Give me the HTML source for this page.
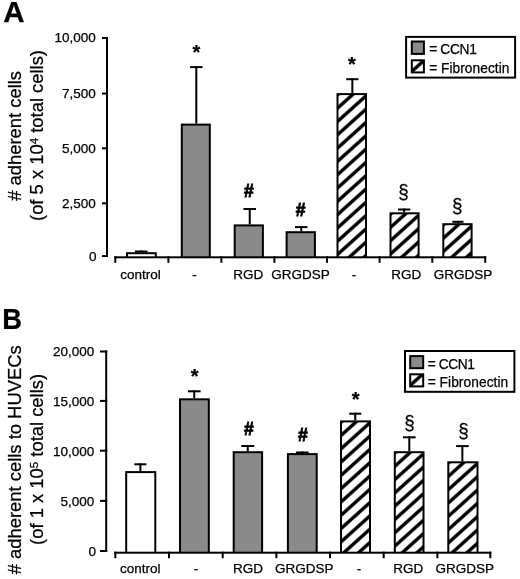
<!DOCTYPE html>
<html><head><meta charset="utf-8"><style>
html,body{margin:0;padding:0;background:#fff;width:520px;height:579px;overflow:hidden}
svg{display:block;filter:grayscale(1) blur(0.4px)}
text{font-family:"Liberation Sans", sans-serif;fill:#000;stroke:#000;stroke-width:0.25px}
</style></head><body>
<svg width="520" height="579" viewBox="0 0 520 579">
<defs><pattern id="hA4" patternUnits="userSpaceOnUse" width="4" height="13.3" patternTransform="translate(338.50 100.65) skewY(-41.987)"><rect x="0" y="0" width="4" height="13.3" fill="#fff"/><rect x="0" y="4.35" width="4" height="4.6" fill="#000"/></pattern><pattern id="hA5" patternUnits="userSpaceOnUse" width="4" height="13.3" patternTransform="translate(391.50 219.85) skewY(-41.987)"><rect x="0" y="0" width="4" height="13.3" fill="#fff"/><rect x="0" y="4.35" width="4" height="4.6" fill="#000"/></pattern><pattern id="hA6" patternUnits="userSpaceOnUse" width="4" height="13.3" patternTransform="translate(444.30 230.75) skewY(-41.987)"><rect x="0" y="0" width="4" height="13.3" fill="#fff"/><rect x="0" y="4.35" width="4" height="4.6" fill="#000"/></pattern><pattern id="hLA" patternUnits="userSpaceOnUse" width="4" height="13.3" patternTransform="translate(412.80 63.85) skewY(-41.987)"><rect x="0" y="0" width="4" height="13.3" fill="#fff"/><rect x="0" y="4.35" width="4" height="4.6" fill="#000"/></pattern><pattern id="hB4" patternUnits="userSpaceOnUse" width="4" height="13.3" patternTransform="translate(342.00 427.95) skewY(-41.987)"><rect x="0" y="0" width="4" height="13.3" fill="#fff"/><rect x="0" y="4.35" width="4" height="4.6" fill="#000"/></pattern><pattern id="hB5" patternUnits="userSpaceOnUse" width="4" height="13.3" patternTransform="translate(395.80 458.75) skewY(-41.987)"><rect x="0" y="0" width="4" height="13.3" fill="#fff"/><rect x="0" y="4.35" width="4" height="4.6" fill="#000"/></pattern><pattern id="hB6" patternUnits="userSpaceOnUse" width="4" height="13.3" patternTransform="translate(449.30 468.85) skewY(-41.987)"><rect x="0" y="0" width="4" height="13.3" fill="#fff"/><rect x="0" y="4.35" width="4" height="4.6" fill="#000"/></pattern><pattern id="hLB" patternUnits="userSpaceOnUse" width="4" height="13.3" patternTransform="translate(411.20 377.85) skewY(-41.987)"><rect x="0" y="0" width="4" height="13.3" fill="#fff"/><rect x="0" y="4.35" width="4" height="4.6" fill="#000"/></pattern></defs>
<rect x="0" y="0" width="520" height="579" fill="#fff"/>
<g transform="translate(3.30,21.80) scale(1.0,1)"><text x="0.00" y="0.00" font-size="29.5" text-anchor="start" font-weight="bold" >A</text></g>
<rect x="106.00" y="37.00" width="2.00" height="220.00" fill="#000"/>
<rect x="102.00" y="37.00" width="6.00" height="2.00" fill="#000"/>
<text x="95.70" y="42.30" font-size="13.5" text-anchor="end" font-weight="normal" >10,000</text>
<rect x="102.00" y="92.50" width="6.00" height="2.00" fill="#000"/>
<text x="95.70" y="97.80" font-size="13.5" text-anchor="end" font-weight="normal" >7,500</text>
<rect x="102.00" y="147.30" width="6.00" height="2.00" fill="#000"/>
<text x="95.70" y="152.60" font-size="13.5" text-anchor="end" font-weight="normal" >5,000</text>
<rect x="102.00" y="202.30" width="6.00" height="2.00" fill="#000"/>
<text x="95.70" y="207.60" font-size="13.5" text-anchor="end" font-weight="normal" >2,500</text>
<rect x="102.00" y="255.00" width="6.00" height="2.00" fill="#000"/>
<text x="96.60" y="260.90" font-size="13.5" text-anchor="end" font-weight="normal" >0</text>
<rect x="114.30" y="256.30" width="371.90" height="2.00" fill="#000"/>
<rect x="114.30" y="256.30" width="2.00" height="6.50" fill="#000"/>
<rect x="167.40" y="256.30" width="2.00" height="6.50" fill="#000"/>
<rect x="220.40" y="256.30" width="2.00" height="6.50" fill="#000"/>
<rect x="273.40" y="256.30" width="2.00" height="6.50" fill="#000"/>
<rect x="326.00" y="256.30" width="2.00" height="6.50" fill="#000"/>
<rect x="378.60" y="256.30" width="2.00" height="6.50" fill="#000"/>
<rect x="431.30" y="256.30" width="2.00" height="6.50" fill="#000"/>
<rect x="484.20" y="256.30" width="2.00" height="6.50" fill="#000"/>
<rect x="126.00" y="252.20" width="30.80" height="5.10" fill="#000"/>
<rect x="128.00" y="254.20" width="26.80" height="2.10" fill="#fff"/>
<rect x="180.80" y="123.60" width="30.00" height="133.70" fill="#000"/>
<rect x="182.80" y="125.60" width="26.00" height="130.70" fill="#8a8a8a"/>
<rect x="233.70" y="224.40" width="30.20" height="32.90" fill="#000"/>
<rect x="235.70" y="226.40" width="26.20" height="29.90" fill="#8a8a8a"/>
<rect x="285.60" y="231.20" width="30.30" height="26.10" fill="#000"/>
<rect x="287.60" y="233.20" width="26.30" height="23.10" fill="#8a8a8a"/>
<rect x="336.50" y="93.10" width="30.50" height="164.20" fill="#000"/>
<rect x="338.50" y="95.10" width="26.50" height="161.20" fill="url(#hA4)"/>
<rect x="389.50" y="212.30" width="30.10" height="45.00" fill="#000"/>
<rect x="391.50" y="214.30" width="26.10" height="42.00" fill="url(#hA5)"/>
<rect x="442.30" y="223.20" width="30.30" height="34.10" fill="#000"/>
<rect x="444.30" y="225.20" width="26.30" height="31.10" fill="url(#hA6)"/>
<rect x="135.00" y="250.50" width="12.50" height="2.00" fill="#000"/>
<rect x="140.25" y="250.50" width="2.00" height="1.70" fill="#000"/>
<rect x="190.10" y="66.10" width="12.40" height="2.00" fill="#000"/>
<rect x="195.30" y="66.10" width="2.00" height="57.50" fill="#000"/>
<rect x="243.50" y="208.00" width="12.50" height="2.00" fill="#000"/>
<rect x="248.75" y="208.00" width="2.00" height="16.40" fill="#000"/>
<rect x="295.00" y="226.10" width="12.50" height="2.00" fill="#000"/>
<rect x="300.25" y="226.10" width="2.00" height="5.10" fill="#000"/>
<rect x="346.20" y="78.20" width="12.30" height="2.00" fill="#000"/>
<rect x="351.35" y="78.20" width="2.00" height="14.90" fill="#000"/>
<rect x="398.00" y="208.50" width="12.30" height="2.00" fill="#000"/>
<rect x="403.15" y="208.50" width="2.00" height="3.80" fill="#000"/>
<rect x="452.30" y="220.80" width="11.20" height="2.00" fill="#000"/>
<rect x="456.90" y="220.80" width="2.00" height="2.40" fill="#000"/>
<text x="196.30" y="58.76" font-size="20" text-anchor="middle" font-weight="bold" >*</text>
<text x="248.95" y="196.90" font-size="17.5" text-anchor="middle" font-weight="bold" style="stroke-width:0.8px">#</text>
<text x="300.50" y="216.30" font-size="17.5" text-anchor="middle" font-weight="bold" style="stroke-width:0.8px">#</text>
<text x="351.95" y="70.66" font-size="20" text-anchor="middle" font-weight="bold" >*</text>
<g transform="translate(403.40,199.06) scale(0.92,1)"><text x="0.00" y="0.00" font-size="20.5" text-anchor="middle" font-weight="normal" >&#167;</text></g>
<g transform="translate(457.35,212.76) scale(0.92,1)"><text x="0.00" y="0.00" font-size="20.5" text-anchor="middle" font-weight="normal" >&#167;</text></g>
<text x="140.50" y="278.50" font-size="13.5" text-anchor="middle" font-weight="normal" >control</text>
<text x="194.40" y="278.50" font-size="13.5" text-anchor="middle" font-weight="normal" >-</text>
<text x="248.35" y="278.50" font-size="13.5" text-anchor="middle" font-weight="normal" >RGD</text>
<text x="300.45" y="278.50" font-size="13.5" text-anchor="middle" font-weight="normal" >GRGDSP</text>
<text x="353.90" y="278.50" font-size="13.5" text-anchor="middle" font-weight="normal" >-</text>
<text x="406.20" y="278.50" font-size="13.5" text-anchor="middle" font-weight="normal" >RGD</text>
<text x="463.00" y="278.50" font-size="13.5" text-anchor="middle" font-weight="normal" >GRGDSP</text>
<text transform="translate(21.10,135.85) rotate(-90)" x="0" y="0" font-size="18.4" text-anchor="middle"># adherent cells</text>
<text transform="translate(43.00,135.50) rotate(-90)" x="0" y="0" font-size="18.4" text-anchor="middle">(of 5 x 10<tspan font-size="11.5" dy="-5">4</tspan><tspan dy="5"> total cells)</tspan></text>
<rect x="405.10" y="35.90" width="111.00" height="42.70" fill="#000"/>
<rect x="407.10" y="37.90" width="107.00" height="38.70" fill="#fff"/>
<rect x="410.80" y="40.50" width="14.10" height="14.40" fill="#000"/>
<rect x="412.80" y="42.50" width="10.10" height="10.40" fill="#8a8a8a"/>
<rect x="410.80" y="59.30" width="14.10" height="14.10" fill="#000"/>
<rect x="412.80" y="61.30" width="10.10" height="10.10" fill="url(#hLA)"/>
<text x="429.13" y="54.10" font-size="13.75" text-anchor="start" font-weight="normal" textLength="47.75" lengthAdjust="spacing">= CCN1</text>
<text x="429.13" y="72.80" font-size="13.75" text-anchor="start" font-weight="normal" textLength="80.27" lengthAdjust="spacing">= Fibronectin</text>
<g transform="translate(2.30,328.70) scale(0.94,1)"><text x="0.00" y="0.00" font-size="29" text-anchor="start" font-weight="bold" >B</text></g>
<rect x="105.20" y="350.40" width="2.00" height="201.60" fill="#000"/>
<rect x="100.00" y="350.50" width="7.20" height="2.00" fill="#000"/>
<text x="94.30" y="356.40" font-size="13.5" text-anchor="end" font-weight="normal" >20,000</text>
<rect x="100.00" y="399.90" width="7.20" height="2.00" fill="#000"/>
<text x="94.30" y="405.80" font-size="13.5" text-anchor="end" font-weight="normal" >15,000</text>
<rect x="100.00" y="449.70" width="7.20" height="2.00" fill="#000"/>
<text x="94.30" y="455.60" font-size="13.5" text-anchor="end" font-weight="normal" >10,000</text>
<rect x="100.00" y="499.90" width="7.20" height="2.00" fill="#000"/>
<text x="94.30" y="505.80" font-size="13.5" text-anchor="end" font-weight="normal" >5,000</text>
<rect x="100.00" y="550.00" width="7.20" height="2.00" fill="#000"/>
<text x="95.90" y="555.90" font-size="13.5" text-anchor="end" font-weight="normal" >0</text>
<rect x="114.30" y="551.70" width="377.00" height="2.00" fill="#000"/>
<rect x="114.30" y="551.70" width="2.00" height="6.50" fill="#000"/>
<rect x="168.00" y="551.70" width="2.00" height="6.50" fill="#000"/>
<rect x="221.70" y="551.70" width="2.00" height="6.50" fill="#000"/>
<rect x="275.40" y="551.70" width="2.00" height="6.50" fill="#000"/>
<rect x="329.00" y="551.70" width="2.00" height="6.50" fill="#000"/>
<rect x="382.70" y="551.70" width="2.00" height="6.50" fill="#000"/>
<rect x="436.40" y="551.70" width="2.00" height="6.50" fill="#000"/>
<rect x="489.30" y="551.70" width="2.00" height="6.50" fill="#000"/>
<rect x="125.20" y="471.10" width="31.10" height="81.60" fill="#000"/>
<rect x="127.20" y="473.10" width="27.10" height="78.60" fill="#fff"/>
<rect x="179.00" y="398.30" width="30.80" height="154.40" fill="#000"/>
<rect x="181.00" y="400.30" width="26.80" height="151.40" fill="#8a8a8a"/>
<rect x="232.70" y="451.20" width="30.40" height="101.50" fill="#000"/>
<rect x="234.70" y="453.20" width="26.40" height="98.50" fill="#8a8a8a"/>
<rect x="286.90" y="453.10" width="30.80" height="99.60" fill="#000"/>
<rect x="288.90" y="455.10" width="26.80" height="96.60" fill="#8a8a8a"/>
<rect x="340.00" y="420.40" width="31.00" height="132.30" fill="#000"/>
<rect x="342.00" y="422.40" width="27.00" height="129.30" fill="url(#hB4)"/>
<rect x="393.80" y="451.20" width="30.70" height="101.50" fill="#000"/>
<rect x="395.80" y="453.20" width="26.70" height="98.50" fill="url(#hB5)"/>
<rect x="447.30" y="461.30" width="31.20" height="91.40" fill="#000"/>
<rect x="449.30" y="463.30" width="27.20" height="88.40" fill="url(#hB6)"/>
<rect x="134.40" y="463.30" width="12.00" height="2.00" fill="#000"/>
<rect x="139.40" y="463.30" width="2.00" height="7.80" fill="#000"/>
<rect x="187.90" y="390.30" width="12.70" height="2.00" fill="#000"/>
<rect x="193.25" y="390.30" width="2.00" height="8.00" fill="#000"/>
<rect x="241.30" y="445.00" width="12.90" height="2.00" fill="#000"/>
<rect x="246.75" y="445.00" width="2.00" height="6.20" fill="#000"/>
<rect x="296.00" y="451.50" width="12.60" height="2.00" fill="#000"/>
<rect x="301.30" y="451.50" width="2.00" height="1.60" fill="#000"/>
<rect x="349.20" y="412.70" width="12.10" height="2.00" fill="#000"/>
<rect x="354.25" y="412.70" width="2.00" height="7.70" fill="#000"/>
<rect x="403.00" y="436.30" width="12.60" height="2.00" fill="#000"/>
<rect x="408.30" y="436.30" width="2.00" height="14.90" fill="#000"/>
<rect x="456.00" y="445.10" width="12.70" height="2.00" fill="#000"/>
<rect x="461.35" y="445.10" width="2.00" height="16.20" fill="#000"/>
<text x="194.70" y="382.56" font-size="20" text-anchor="middle" font-weight="bold" >*</text>
<text x="248.75" y="435.00" font-size="17.5" text-anchor="middle" font-weight="bold" style="stroke-width:0.8px">#</text>
<text x="302.90" y="441.10" font-size="17.5" text-anchor="middle" font-weight="bold" style="stroke-width:0.8px">#</text>
<text x="355.55" y="405.76" font-size="20" text-anchor="middle" font-weight="bold" >*</text>
<g transform="translate(409.40,429.66) scale(0.92,1)"><text x="0.00" y="0.00" font-size="20.5" text-anchor="middle" font-weight="normal" >&#167;</text></g>
<g transform="translate(463.45,437.56) scale(0.92,1)"><text x="0.00" y="0.00" font-size="20.5" text-anchor="middle" font-weight="normal" >&#167;</text></g>
<text x="140.15" y="572.70" font-size="13.5" text-anchor="middle" font-weight="normal" >control</text>
<text x="196.00" y="572.70" font-size="13.5" text-anchor="middle" font-weight="normal" >-</text>
<text x="248.00" y="572.70" font-size="13.5" text-anchor="middle" font-weight="normal" >RGD</text>
<text x="304.15" y="572.70" font-size="13.5" text-anchor="middle" font-weight="normal" >GRGDSP</text>
<text x="358.90" y="572.70" font-size="13.5" text-anchor="middle" font-weight="normal" >-</text>
<text x="408.30" y="572.70" font-size="13.5" text-anchor="middle" font-weight="normal" >RGD</text>
<text x="464.85" y="572.70" font-size="13.5" text-anchor="middle" font-weight="normal" >GRGDSP</text>
<text transform="translate(21.10,459.80) rotate(-90)" x="0" y="0" font-size="18.4" text-anchor="middle"># adherent cells to HUVECs</text>
<text transform="translate(42.50,459.40) rotate(-90)" x="0" y="0" font-size="18.4" text-anchor="middle">(of 1 x 10<tspan font-size="11.5" dy="-5">5</tspan><tspan dy="5"> total cells)</tspan></text>
<rect x="404.00" y="350.00" width="111.40" height="42.80" fill="#000"/>
<rect x="406.00" y="352.00" width="107.40" height="38.80" fill="#fff"/>
<rect x="409.20" y="355.10" width="15.00" height="14.10" fill="#000"/>
<rect x="411.20" y="357.10" width="11.00" height="10.10" fill="#8a8a8a"/>
<rect x="409.20" y="373.30" width="15.00" height="14.10" fill="#000"/>
<rect x="411.20" y="375.30" width="11.00" height="10.10" fill="url(#hLB)"/>
<text x="427.63" y="368.60" font-size="13.75" text-anchor="start" font-weight="normal" textLength="47.35" lengthAdjust="spacing">= CCN1</text>
<text x="427.63" y="386.70" font-size="13.75" text-anchor="start" font-weight="normal" textLength="80.57" lengthAdjust="spacing">= Fibronectin</text>
</svg></body></html>
